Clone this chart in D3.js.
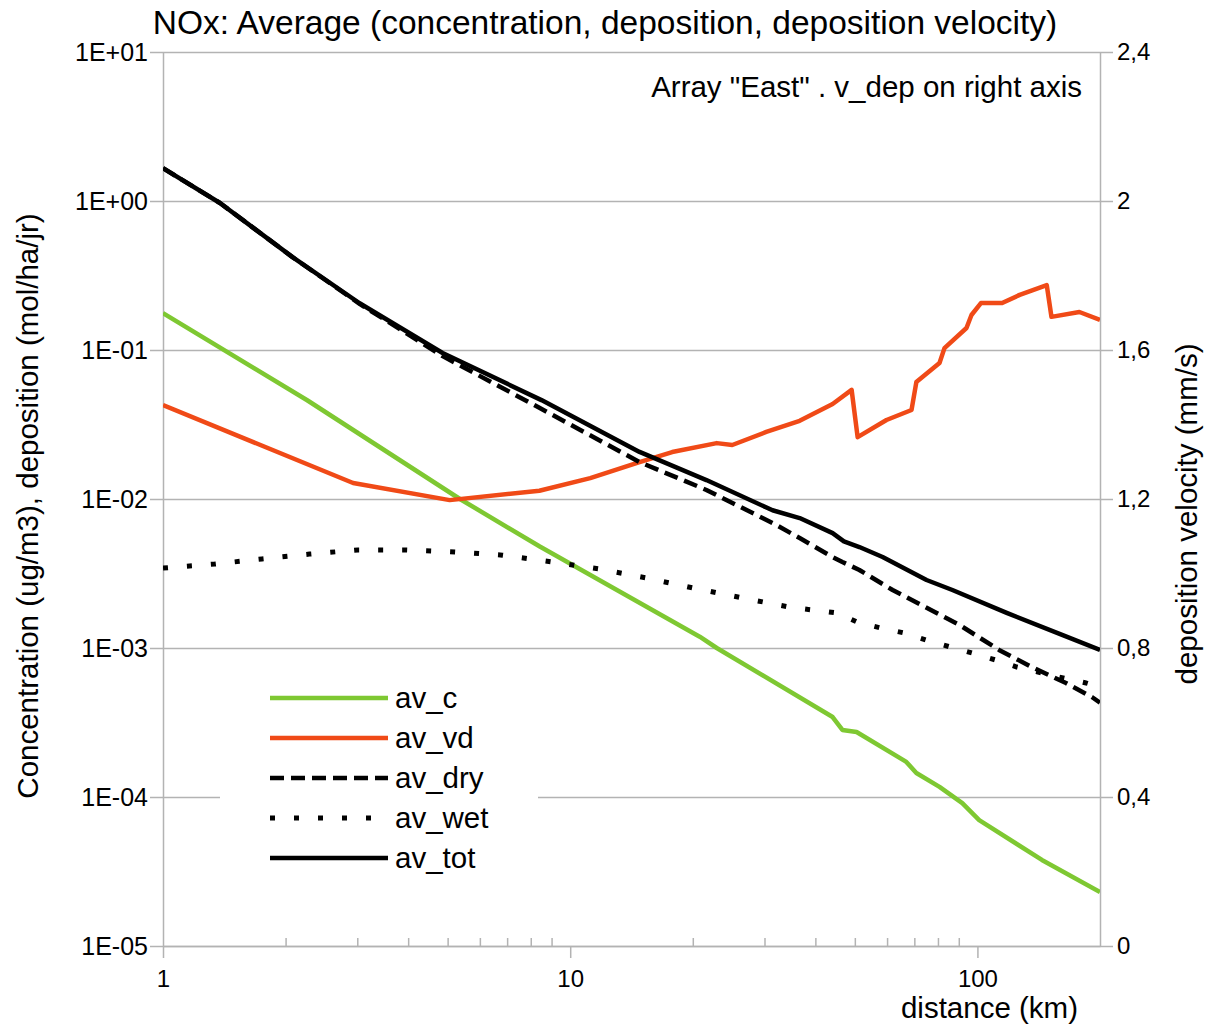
<!DOCTYPE html>
<html>
<head>
<meta charset="utf-8">
<script src="https://cdn.jsdelivr.net/npm/d3@7"></script>
<style>
  body { margin: 0; background: #fff; }
  text { font-family: "Liberation Sans", Arial, sans-serif; fill: #000; }
</style>
</head>
<body>
<svg width="1207" height="1025"></svg>
<script>
// values: [distance km, value]
var avC = [[1,0.177],[2.26,0.046],[5.36,0.01],[8.42,4.8e-3],[20.8,1.19e-3],[22.9,1e-3],
  [44.1,3.44e-4],[46.6,2.82e-4],[50.5,2.73e-4],[66.9,1.72e-4],[70.8,1.45e-4],[80.7,1.17e-4],
  [91.8,9.1e-5],[101,7.0e-5],[144,3.78e-5],[200,2.3e-5]];

var avVd = [[1,1.452],[2.93,1.243],[5.06,1.197],[8.4,1.222],[11.2,1.256],[14.8,1.299],
  [17.8,1.326],[22.9,1.350],[25.0,1.345],[30.3,1.380],[36.6,1.410],[44.1,1.455],[49.1,1.493],
  [50.8,1.366],[59.8,1.412],[68.9,1.439],[70.8,1.514],[80.7,1.565],[83,1.605],[94,1.659],
  [96.7,1.694],[102,1.726],[115,1.726],[127,1.748],[148,1.774],[152,1.689],[178,1.702],[200,1.681]];

var avDry = [[1,1.66],[1.38,0.97],[2.08,0.42],[3.04,0.204],[4.86,0.091],[8.42,0.0408],
  [14.8,0.0177],[21.6,0.0115],[31.4,6.9e-3],[36.6,5.47e-3],[44.1,4.08e-3],[46.6,3.78e-3],
  [51.3,3.34e-3],[61.9,2.45e-3],[90.3,1.43e-3],[113,9.7e-4],[136,7.45e-4],[165,5.82e-4],
  [191,4.69e-4],[200,4.3e-4]];

var avWet = [[1,3.44e-3],[1.34,3.66e-3],[1.75,3.96e-3],[2.29,4.27e-3],[3.01,4.55e-3],
  [3.97,4.55e-3],[5.21,4.41e-3],[6.82,4.2e-3],[9.01,3.78e-3],[11.8,3.39e-3],[15.4,2.95e-3],
  [20,2.53e-3],[26.4,2.17e-3],[34.6,1.88e-3],[45.1,1.72e-3],[50.8,1.49e-3],[58.1,1.36e-3],
  [66.2,1.26e-3],[75,1.13e-3],[85.4,1.02e-3],[97.2,9.25e-4],[111,8.3e-4],[125,7.45e-4],
  [159,6.38e-4],[185,5.82e-4],[200,5.47e-4]];

var avTot = [[1,1.66],[1.38,0.97],[2.08,0.42],[3.04,0.206],[4.86,0.0955],[8.5,0.0461],
  [14.8,0.0207],[21.6,0.0134],[31.4,8.4e-3],[36.6,7.45e-3],[44.1,5.9e-3],[47,5.2e-3],
  [51.3,4.76e-3],[58.5,4.08e-3],[75,2.86e-3],[86.8,2.45e-3],[118,1.72e-3],[162,1.22e-3],
  [200,9.7e-4]];

var leftTicks = [1e1,1e0,1e-1,1e-2,1e-3,1e-4,1e-5];
var leftTickLabels = ["1E+01","1E+00","1E-01","1E-02","1E-03","1E-04","1E-05"];
var rightTicks = [0,0.4,0.8,1.2,1.6,2,2.4];
var rightTickLabels = ["0","0,4","0,8","1,2","1,6","2","2,4"];
var xTicks = [1,10,100];
var xMinorTicks = [2,3,4,5,6,7,8,9,20,30,40,50,60,70,80,90];

var seriesNames = ["av_c","av_vd","av_dry","av_wet","av_tot"];

var pLeft = 163, pRight = 1100, pTop = 52, pBottom = 946;
var svg = d3.select("svg");

var x = d3.scaleLog().domain([1,200]).range([pLeft,pRight]);
var yL = d3.scaleLog().domain([1e-5,10]).range([pBottom,pTop]);
var yR = d3.scaleLinear().domain([0,2.4]).range([pBottom,pTop]);

var grey = "#b3b3b3";

function styleAxis(g, fs){
  g.select(".domain").attr("stroke",grey).attr("stroke-width",1.5);
  g.selectAll("line").attr("stroke",grey).attr("stroke-width",1.5);
  g.selectAll("text").attr("font-size",fs).attr("font-family","Liberation Sans, Arial, sans-serif").attr("fill","#222");
}

// horizontal grid
var grid = svg.append("g").attr("transform","translate("+pLeft+",0)")
  .call(d3.axisLeft(yL).tickValues(leftTicks).tickSize(-(pRight-pLeft)).tickFormat(""));
grid.select(".domain").remove();
grid.selectAll("line").attr("stroke",grey).attr("stroke-width",1.5);

// left axis
var gl = svg.append("g").attr("transform","translate("+pLeft+",0)")
  .call(d3.axisLeft(yL).tickValues(leftTicks).tickSizeInner(13).tickSizeOuter(0).tickPadding(2)
    .tickFormat(function(d,i){ return leftTickLabels[i]; }));
styleAxis(gl, 25);

// right axis
var gr = svg.append("g").attr("transform","translate("+pRight+",0)")
  .call(d3.axisRight(yR).tickValues(rightTicks).tickSizeInner(13).tickSizeOuter(0).tickPadding(4)
    .tickFormat(function(d,i){ return rightTickLabels[i]; }));
styleAxis(gr, 24);

// bottom axis: major ticks outward, minor ticks inward
var gb = svg.append("g").attr("transform","translate(0,"+pBottom+")")
  .call(d3.axisBottom(x).tickValues(xTicks).tickSizeInner(12).tickSizeOuter(0).tickPadding(12)
    .tickFormat(d3.format("d")));
styleAxis(gb, 24);

var gm = svg.append("g").attr("transform","translate(0,"+pBottom+")")
  .call(d3.axisTop(x).tickValues(xMinorTicks).tickSize(8).tickFormat(""));
gm.select(".domain").remove();
gm.selectAll("line").attr("stroke",grey).attr("stroke-width",1.5);

// series
svg.append("clipPath").attr("id","plot").append("rect")
  .attr("x",pLeft).attr("y",pTop).attr("width",pRight-pLeft).attr("height",pBottom-pTop);

var lineL = d3.line().x(function(d){ return x(d[0]); }).y(function(d){ return yL(d[1]); });
var lineR = d3.line().x(function(d){ return x(d[0]); }).y(function(d){ return yR(d[1]); });

var styles = [
  {color:"#7ec832", width:4.5, dash:null},
  {color:"#f04a17", width:4.5, dash:null},
  {color:"#000", width:4.5, dash:"14,7"},
  {color:"#000", width:5, dash:"5,19"},
  {color:"#000", width:4.5, dash:null}
];

var plot = svg.append("g").attr("clip-path","url(#plot)");
[avC, avVd, avDry, avWet, avTot].forEach(function(data, i){
  var s = styles[i];
  plot.append("path")
    .attr("d", i == 1 ? lineR(data) : lineL(data))
    .attr("fill","none")
    .attr("stroke",s.color)
    .attr("stroke-width",s.width)
    .attr("stroke-linejoin","round")
    .attr("stroke-dasharray",s.dash);
});

// legend
var lg = svg.append("g");
lg.append("rect").attr("x",220).attr("y",672).attr("width",318).attr("height",208).attr("fill","#fff");
seriesNames.forEach(function(name,i){
  var ly = 698 + i*40;
  lg.append("line").attr("x1",270).attr("x2",388).attr("y1",ly).attr("y2",ly)
    .attr("stroke",styles[i].color).attr("stroke-width",styles[i].width)
    .attr("stroke-dasharray",styles[i].dash);
  lg.append("text").attr("x",395).attr("y",ly+10).attr("font-size",29.5).text(name);
});

// texts
svg.append("text").attr("x",605).attr("y",34).attr("text-anchor","middle").attr("font-size",33.5)
  .text("NOx: Average (concentration, deposition, deposition velocity)");
svg.append("text").attr("x",1082).attr("y",97).attr("text-anchor","end").attr("font-size",29.5)
  .text('Array "East" . v_dep on right axis');
svg.append("text").attr("x",1078).attr("y",1018).attr("text-anchor","end").attr("font-size",29.5)
  .text("distance (km)");
svg.append("text").attr("transform","translate(38,506) rotate(-90)").attr("text-anchor","middle")
  .attr("font-size",29.5).text("Concentration (ug/m3), deposition (mol/ha/jr)");
svg.append("text").attr("transform","translate(1197,514) rotate(-90)").attr("text-anchor","middle")
  .attr("font-size",29.5).text("deposition velocity (mm/s)");
</script>
</body>
</html>
